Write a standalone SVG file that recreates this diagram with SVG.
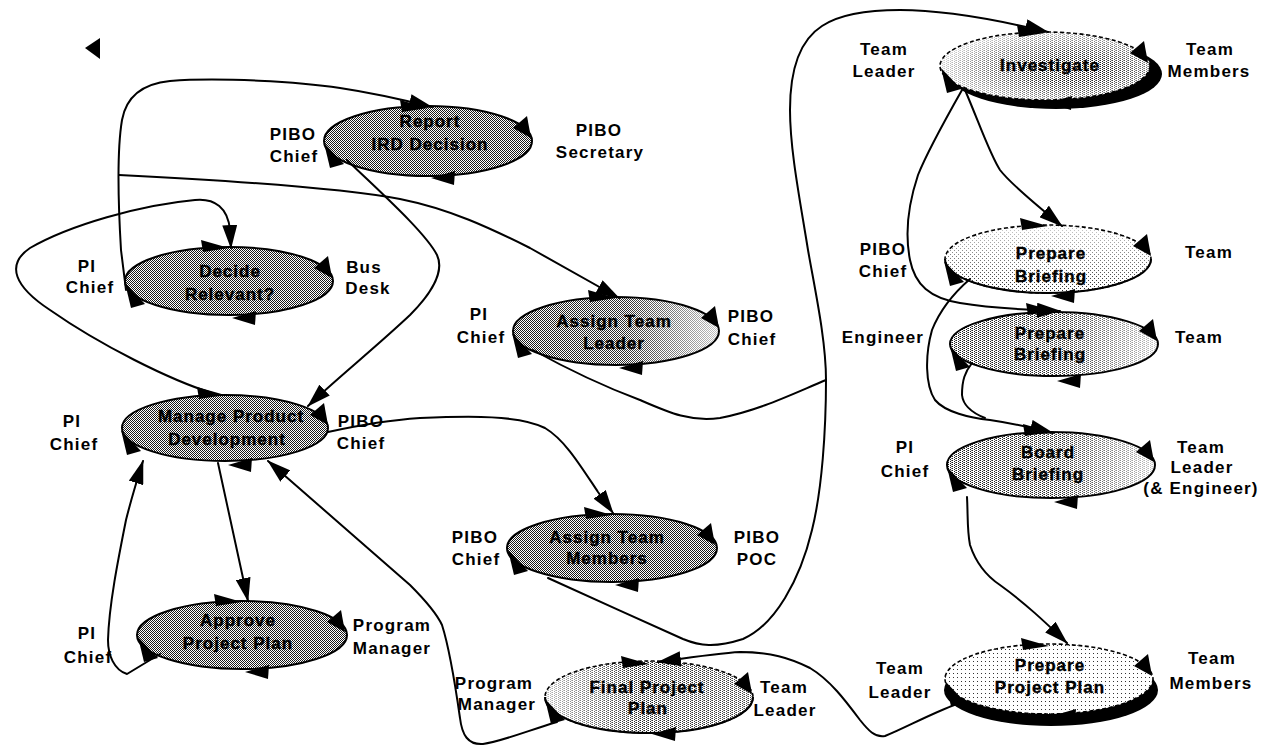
<svg xmlns="http://www.w3.org/2000/svg" xmlns:xlink="http://www.w3.org/1999/xlink" width="1261" height="746" viewBox="0 0 1261 746">
  <style>
    .lbl { font-family: "Liberation Sans", Arial, sans-serif; font-weight: bold; font-size: 17px; letter-spacing: 1.2px; fill: #000; text-anchor: middle; }
    .in { font-family: "Liberation Sans", Arial, sans-serif; font-weight: bold; font-size: 17px; letter-spacing: 1px; fill: #000; text-anchor: middle; stroke: #000; stroke-width: 0.4; }
    .edge { fill: none; stroke: #000; stroke-width: 2; stroke-linecap: round; stroke-linejoin: round; }
    .arr { marker-end: url(#arrow); }
    .rim { fill: none; stroke: #000; stroke-width: 2; }
    .rimdot { fill: none; stroke: #000; stroke-width: 1.6; stroke-dasharray: 4 2.5; }
    .shadow { fill: #000; }
  </style>
  <defs>
    <marker id="arrow" viewBox="0 0 24 15" refX="23" refY="7.5" markerWidth="24" markerHeight="15" markerUnits="userSpaceOnUse" orient="auto">
      <path d="M0,0 L24,7.5 L0,15 Z" fill="#000"/>
    </marker>
    <!-- stipple screens of several densities -->
    <pattern id="p50" width="2" height="2" patternUnits="userSpaceOnUse">
      <rect width="2" height="2" fill="#fff"/>
      <rect width="1" height="1" fill="#1a1a1a"/>
      <rect x="1" y="1" width="1" height="1" fill="#1a1a1a"/>
    </pattern>
    <pattern id="p30" width="4" height="2" patternUnits="userSpaceOnUse">
      <rect width="4" height="2" fill="#fff"/>
      <rect width="1" height="1" fill="#1a1a1a"/>
      <rect x="2" y="1" width="1" height="1" fill="#1a1a1a"/>
      <rect x="3" y="0" width="1" height="1" fill="#777"/>
    </pattern>
    <pattern id="p15" width="4" height="4" patternUnits="userSpaceOnUse">
      <rect width="4" height="4" fill="#fff"/>
      <rect width="1" height="1" fill="#222"/>
      <rect x="2" y="2" width="1" height="1" fill="#222"/>
    </pattern>
    <pattern id="p6" width="4" height="4" patternUnits="userSpaceOnUse">
      <rect width="4" height="4" fill="#fff"/>
      <rect x="1" y="1" width="1" height="1" fill="#333"/>
    </pattern>
    <linearGradient id="fadeR" x1="0" y1="0" x2="1" y2="0">
      <stop offset="0" stop-color="#fff" stop-opacity="0"/>
      <stop offset="0.55" stop-color="#fff" stop-opacity="0.1"/>
      <stop offset="1" stop-color="#fff" stop-opacity="0.75"/>
    </linearGradient>
    <linearGradient id="fadeL" x1="0" y1="0" x2="1" y2="0">
      <stop offset="0" stop-color="#fff" stop-opacity="0.7"/>
      <stop offset="0.45" stop-color="#fff" stop-opacity="0.05"/>
      <stop offset="1" stop-color="#fff" stop-opacity="0.2"/>
    </linearGradient>
    <linearGradient id="fadeT" x1="0" y1="0" x2="0" y2="1">
      <stop offset="0" stop-color="#fff" stop-opacity="0.8"/>
      <stop offset="1" stop-color="#fff" stop-opacity="0"/>
    </linearGradient>
    <radialGradient id="fadeEdge" cx="0.6" cy="0.55" r="0.6">
      <stop offset="0.3" stop-color="#fff" stop-opacity="0"/>
      <stop offset="1" stop-color="#fff" stop-opacity="0.8"/>
    </radialGradient>
    <!-- the four role handles around an activity ellipse -->
    <g id="handles">
      <polygon points="-28,-41 -26,-29 0,-33"/>
      <polygon points="85,-13 99,-25 103,-3"/>
      <polygon points="3,37 27,30 26,44"/>
      <polygon points="-104,2 -98,27 -84,23"/>
    </g>
  </defs>

  <rect width="1261" height="746" fill="#fff"/>

  <!-- stray left-pointing marker -->
  <polygon points="85,48 100,38 100,59" fill="#000"/>

  <!-- activity nodes -->
  <g id="report-ird">
    <ellipse cx="428" cy="141" rx="104" ry="35" fill="url(#p50)"/>
    <ellipse cx="428" cy="141" rx="104" ry="35" class="rim"/>
    <use xlink:href="#handles" href="#handles" transform="translate(428,141)"/>
    <text class="in" x="430" y="127">Report</text>
    <text class="in" x="430" y="150">IRD Decision</text>
    <text class="lbl" x="293" y="140">PIBO</text>
    <text class="lbl" x="294" y="162">Chief</text>
    <text class="lbl" x="599" y="136">PIBO</text>
    <text class="lbl" x="600" y="158">Secretary</text>
  </g>

  <g id="decide-relevant">
    <ellipse cx="229" cy="281" rx="104" ry="34" fill="url(#p50)"/>
    <ellipse cx="229" cy="281" rx="104" ry="34" class="rim"/>
    <use xlink:href="#handles" href="#handles" transform="translate(229,281)"/>
    <text class="in" x="230" y="277">Decide</text>
    <text class="in" x="230" y="300">Relevant?</text>
    <text class="lbl" x="87" y="272">PI</text>
    <text class="lbl" x="90" y="293">Chief</text>
    <text class="lbl" x="364" y="273">Bus</text>
    <text class="lbl" x="368" y="294">Desk</text>
  </g>

  <g id="manage-product">
    <ellipse cx="225" cy="428" rx="103" ry="33" fill="url(#p50)"/>
    <ellipse cx="225" cy="428" rx="103" ry="33" class="rim"/>
    <use xlink:href="#handles" href="#handles" transform="translate(225,428)"/>
    <text class="in" x="231" y="422">Manage Product</text>
    <text class="in" x="227" y="445">Development</text>
    <text class="lbl" x="72" y="427">PI</text>
    <text class="lbl" x="74" y="450">Chief</text>
    <text class="lbl" x="361" y="427">PIBO</text>
    <text class="lbl" x="361" y="449">Chief</text>
  </g>

  <g id="approve-plan">
    <ellipse cx="242" cy="635" rx="105" ry="34" fill="url(#p50)"/>
    <ellipse cx="242" cy="635" rx="105" ry="34" class="rim"/>
    <use xlink:href="#handles" href="#handles" transform="translate(242,635)"/>
    <text class="in" x="238" y="626">Approve</text>
    <text class="in" x="238" y="649">Project Plan</text>
    <text class="lbl" x="87" y="639">PI</text>
    <text class="lbl" x="88" y="663">Chief</text>
    <text class="lbl" x="392" y="631">Program</text>
    <text class="lbl" x="392" y="654">Manager</text>
  </g>

  <g id="assign-leader">
    <ellipse cx="616" cy="331" rx="103" ry="34" fill="url(#p50)"/>
    <ellipse cx="616" cy="331" rx="103" ry="34" fill="url(#fadeR)"/>
    <ellipse cx="616" cy="331" rx="103" ry="34" class="rim"/>
    <use xlink:href="#handles" href="#handles" transform="translate(616,331)"/>
    <text class="in" x="614" y="327">Assign Team</text>
    <text class="in" x="614" y="349">Leader</text>
    <text class="lbl" x="479" y="320">PI</text>
    <text class="lbl" x="481" y="343">Chief</text>
    <text class="lbl" x="751" y="322">PIBO</text>
    <text class="lbl" x="752" y="345">Chief</text>
  </g>

  <g id="assign-members">
    <ellipse cx="612" cy="548" rx="105" ry="34" fill="url(#p50)"/>
    <ellipse cx="612" cy="548" rx="105" ry="34" class="rim"/>
    <use xlink:href="#handles" href="#handles" transform="translate(612,548)"/>
    <text class="in" x="607" y="543">Assign Team</text>
    <text class="in" x="607" y="564">Members</text>
    <text class="lbl" x="475" y="543">PIBO</text>
    <text class="lbl" x="476" y="565">Chief</text>
    <text class="lbl" x="757" y="543">PIBO</text>
    <text class="lbl" x="757" y="565">POC</text>
  </g>

  <g id="final-plan">
    <ellipse cx="649" cy="697" rx="104" ry="36" fill="url(#p30)"/>
    <ellipse cx="649" cy="697" rx="104" ry="36" fill="url(#fadeL)"/>
    <ellipse cx="649" cy="697" rx="104" ry="36" class="rimdot"/>
    <path d="M545,697 A104,36 0 0 0 753,697" class="rim"/>
    <use xlink:href="#handles" href="#handles" transform="translate(649,697)"/>
    <text class="in" x="647" y="693">Final Project</text>
    <text class="in" x="648" y="714">Plan</text>
    <text class="lbl" x="494" y="689">Program</text>
    <text class="lbl" x="497" y="710">Manager</text>
    <text class="lbl" x="784" y="693">Team</text>
    <text class="lbl" x="785" y="716">Leader</text>
  </g>

  <g id="investigate">
    <ellipse cx="1056" cy="74" rx="106" ry="35" class="shadow"/>
    <ellipse cx="1045" cy="66" rx="105" ry="34" fill="url(#p30)"/>
    <ellipse cx="1045" cy="66" rx="105" ry="34" fill="url(#fadeEdge)"/>
    <ellipse cx="1045" cy="66" rx="105" ry="34" class="rimdot"/>
    <use xlink:href="#handles" href="#handles" transform="translate(1045,66)"/>
    <text class="in" x="1050" y="71">Investigate</text>
    <text class="lbl" x="884" y="55">Team</text>
    <text class="lbl" x="884" y="77">Leader</text>
    <text class="lbl" x="1210" y="55">Team</text>
    <text class="lbl" x="1209" y="77">Members</text>
  </g>

  <g id="prepare-briefing-1">
    <ellipse cx="1048" cy="259" rx="103" ry="34" fill="url(#p15)"/>
    <ellipse cx="1048" cy="259" rx="103" ry="34" fill="url(#fadeT)"/>
    <ellipse cx="1048" cy="259" rx="103" ry="34" class="rimdot"/>
    <path d="M945,259 A103,34 0 0 0 1151,259" class="rim"/>
    <use xlink:href="#handles" href="#handles" transform="translate(1048,259)"/>
    <text class="in" x="1051" y="259">Prepare</text>
    <text class="in" x="1051" y="282">Briefing</text>
    <text class="lbl" x="883" y="255">PIBO</text>
    <text class="lbl" x="883" y="277">Chief</text>
    <text class="lbl" x="1209" y="258">Team</text>
  </g>

  <g id="prepare-briefing-2">
    <ellipse cx="1054" cy="344" rx="104" ry="32" fill="url(#p30)"/>
    <ellipse cx="1054" cy="344" rx="104" ry="32" fill="url(#fadeR)"/>
    <ellipse cx="1054" cy="344" rx="104" ry="32" class="rim"/>
    <use xlink:href="#handles" href="#handles" transform="translate(1054,344)"/>
    <text class="in" x="1050" y="339">Prepare</text>
    <text class="in" x="1050" y="360">Briefing</text>
    <text class="lbl" x="883" y="343">Engineer</text>
    <text class="lbl" x="1199" y="343">Team</text>
  </g>

  <g id="board-briefing">
    <ellipse cx="1051" cy="465" rx="104" ry="33" fill="url(#p30)"/>
    <ellipse cx="1051" cy="465" rx="104" ry="33" fill="url(#fadeR)"/>
    <ellipse cx="1051" cy="465" rx="104" ry="33" class="rim"/>
    <use xlink:href="#handles" href="#handles" transform="translate(1051,465)"/>
    <text class="in" x="1048" y="458">Board</text>
    <text class="in" x="1048" y="480">Briefing</text>
    <text class="lbl" x="905" y="453">PI</text>
    <text class="lbl" x="905" y="477">Chief</text>
    <text class="lbl" x="1201" y="453">Team</text>
    <text class="lbl" x="1202" y="473">Leader</text>
    <text class="lbl" x="1201" y="494">(&amp; Engineer)</text>
  </g>

  <g id="prepare-project-plan">
    <ellipse cx="1051" cy="690" rx="107" ry="36" class="shadow"/>
    <ellipse cx="1049" cy="679" rx="104" ry="35" fill="url(#p6)"/>
    <ellipse cx="1049" cy="679" rx="104" ry="35" class="rimdot"/>
    <use xlink:href="#handles" href="#handles" transform="translate(1049,679)"/>
    <text class="in" x="1050" y="671">Prepare</text>
    <text class="in" x="1050" y="693">Project Plan</text>
    <text class="lbl" x="900" y="674">Team</text>
    <text class="lbl" x="900" y="698">Leader</text>
    <text class="lbl" x="1212" y="664">Team</text>
    <text class="lbl" x="1211" y="689">Members</text>
  </g>

  <!-- connectors -->
  <g id="connectors">
    <path class="edge arr" d="M126,290 L121,250 C118,200 117,150 122,120 C126,98 140,84 170,81 C220,77 300,82 340,88 C360,91 400,99 432,107"/>
    <path class="edge arr" d="M119,175 C220,180 340,188 400,199 C450,209 490,228 530,248 L619,298"/>
    <path class="edge arr" d="M212,393 C170,380 100,345 50,310 C15,287 5,265 30,248 C70,225 140,205 195,200 C215,198 228,208 230,230 L231,248"/>
    <path class="edge arr" d="M347,160 C380,192 425,232 437,255 C445,272 430,295 410,315 C375,348 335,380 308,406"/>
    <path class="edge arr" d="M218,463 L248,601"/>
    <path class="edge arr" d="M160,654 L127,674 C114,670 108,655 108,640 C109,605 118,560 126,520 C131,500 137,480 143,461"/>
    <path class="edge arr" d="M557,722 C530,730 500,742 483,744 C468,745 462,735 460,718 C456,690 450,650 442,625 C436,612 425,600 410,585 L268,461"/>
    <path class="edge arr" d="M328,432 C360,425 390,420 420,418 C470,416 520,415 545,428 C565,440 580,465 598,492 L613,513"/>
    <path class="edge" d="M533,350 C560,365 600,385 640,400 C670,413 690,422 720,418 C760,410 790,395 826,380"/>
    <path class="edge arr" d="M548,578 C590,597 640,620 683,639 C700,646 715,648 743,639 C775,625 800,580 812,530 C822,490 826,430 826,380 C826,340 815,290 808,250 C800,200 790,150 790,110 C790,70 800,40 822,26 C840,14 870,10 900,10 C940,10 990,18 1048,32"/>
    <path class="edge arr" d="M965,90 C978,120 990,155 1000,170 C1010,183 1030,200 1062,226"/>
    <path class="edge arr" d="M962,90 C945,120 928,150 918,175 C908,205 905,235 910,260 C915,285 930,298 960,303 C990,308 1030,310 1060,311"/>
    <path class="edge arr" d="M970,279 C955,292 940,310 932,330 C925,355 925,385 935,400 C945,412 970,418 990,420 C1010,423 1030,427 1053,433"/>
    <path class="edge" d="M972,363 C965,372 962,380 962,395 C963,405 970,412 985,418"/>
    <path class="edge arr" d="M967,497 C968,515 967,530 970,545 C975,560 985,575 1000,585 C1025,603 1045,622 1067,643"/>
    <path class="edge arr" d="M957,704 C930,714 905,728 885,736 C875,738 868,730 860,720 C845,700 830,680 810,668 C790,658 770,652 740,652 C720,653 700,656 658,662"/>
  </g>
</svg>
